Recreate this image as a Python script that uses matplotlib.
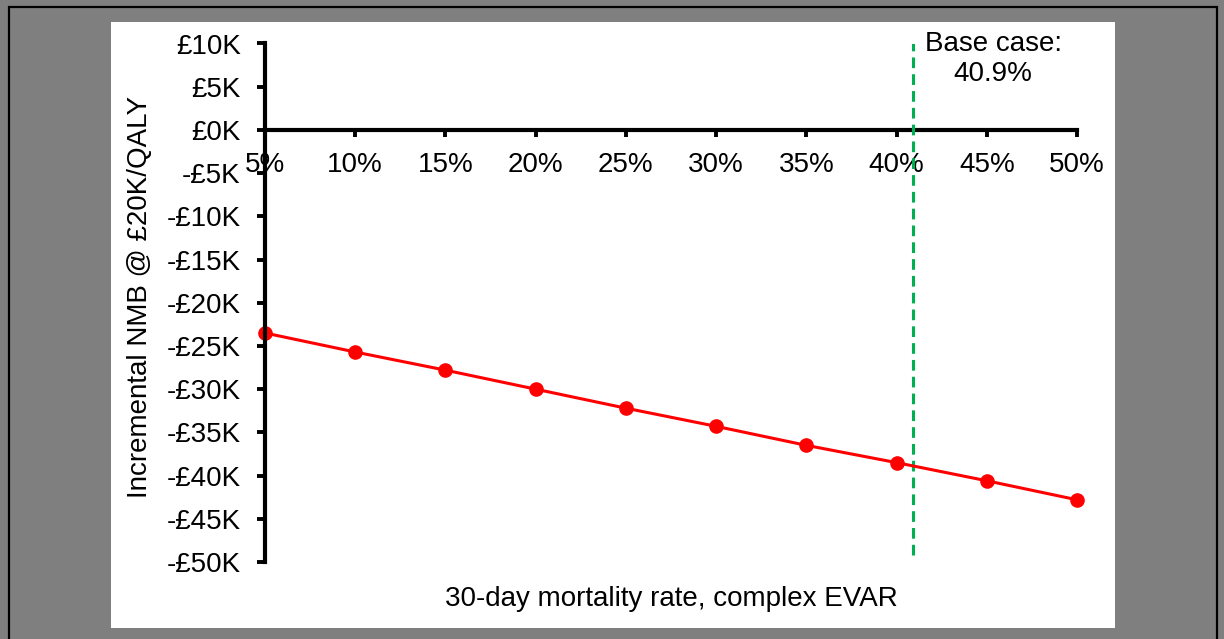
import matplotlib
matplotlib.use("Agg")
import matplotlib.pyplot as plt
from matplotlib.patches import Rectangle

plt.rcParams["font.family"] = ["Liberation Sans", "DejaVu Sans"]

# Data
mortality = [5, 10, 15, 20, 25, 30, 35, 40, 45, 50]
nmb_k = [-23.5, -25.7, -27.8, -30.0, -32.2, -34.3, -36.5, -38.5, -40.6, -42.8]
base_case = 40.9

x_ticks = [5, 10, 15, 20, 25, 30, 35, 40, 45, 50]
x_labels = [f"{v}%" for v in x_ticks]
y_ticks = [10, 5, 0, -5, -10, -15, -20, -25, -30, -35, -40, -45, -50]
y_labels = [f"£{v}K" if v >= 0 else f"-£{-v}K" for v in y_ticks]

FS = 20
W, H = 1224, 639

fig = plt.figure(figsize=(W / 100, H / 100), dpi=100)
fig.patch.set_facecolor("#7f7f7f")

# outer black frame and white slide panel
fig.add_artist(Rectangle((9 / W, -0.1), (1217 - 9) / W, 1.1 - 7 / H,
                         transform=fig.transFigure, facecolor="none",
                         edgecolor="black", lw=1.6, zorder=0))
fig.add_artist(Rectangle((111 / W, 1 - 628 / H), 1004 / W, 606 / H,
                         transform=fig.transFigure, facecolor="white",
                         edgecolor="none", zorder=0))

ax = fig.add_axes([265 / W, 1 - 562 / H, (1077 - 265) / W, (562 - 43.5) / H])
ax.set_facecolor("none")

ax.plot(mortality, nmb_k, color="#ff0000", lw=2.2, marker="o", ms=9.5,
        clip_on=False, zorder=4)

ax.vlines(base_case, -49.2, 10, colors="#00b050", lw=2.2,
          linestyles=(0, (3.5, 2)), zorder=3)
ax.text(45.35, 8.2, "Base case:\n40.9%", ha="center", va="center",
        fontsize=FS, linespacing=1.2)

ax.set_xlim(5, 50)
ax.set_ylim(-50, 10)

for s in ["top", "right"]:
    ax.spines[s].set_visible(False)
ax.spines["bottom"].set_position(("data", 0))
ax.spines["left"].set_linewidth(3)
ax.spines["bottom"].set_linewidth(3)
ax.spines["left"].set_zorder(5)

ax.set_xticks(x_ticks)
ax.set_xticklabels(x_labels)
ax.set_yticks(y_ticks)
ax.set_yticklabels(y_labels)
ax.tick_params(axis="x", direction="out", length=5, width=2.8, pad=11,
               labelsize=FS)
ax.tick_params(axis="y", direction="out", length=5.5, width=2.8, pad=12,
               labelsize=FS)

fig.text(140 / W, 1 - 297 / H, "Incremental NMB @ £20K/QALY", rotation=90,
         ha="center", va="center", fontsize=FS)
fig.text(671 / W, 1 - 599 / H, "30-day mortality rate, complex EVAR",
         ha="center", va="center", fontsize=FS)

fig.savefig("out.png", dpi=100, facecolor=fig.get_facecolor())
